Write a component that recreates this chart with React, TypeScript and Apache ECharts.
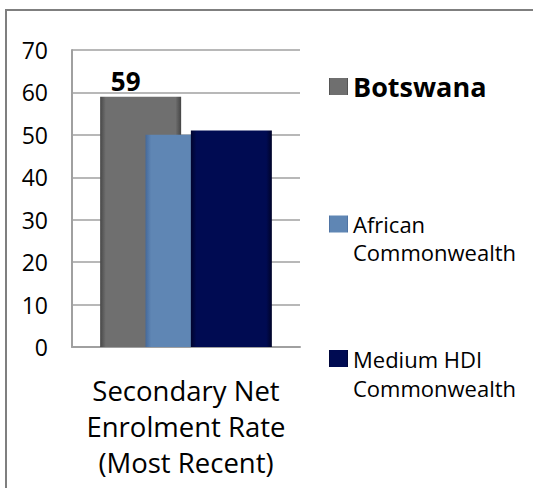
import React, { useEffect, useRef } from "react";
import * as echarts from "echarts";

const categories = ["Secondary Net\nEnrolment Rate\n(Most Recent)"];
const seriesNames = ["Botswana", "African Commonwealth", "Medium HDI Commonwealth"];
const botswana = [59];
const africanCommonwealth = [50];
const mediumHdiCommonwealth = [51];
const yTicks = { min: 0, max: 70, interval: 10 };

const FONT = "'Open Sans', 'Liberation Sans', sans-serif";

function hGrad(edge: string, mid: string, edge2: string) {
  return new echarts.graphic.LinearGradient(0, 0, 1, 0, [
    { offset: 0, color: edge },
    { offset: 0.07, color: mid },
    { offset: 0.93, color: mid },
    { offset: 1, color: edge2 },
  ]);
}

export default function App() {
  const ref = useRef<HTMLDivElement>(null);
  useEffect(() => {
    document.body.style.margin = "0";
    document.body.style.overflow = "hidden";
    if (!ref.current) return;
    const chart = echarts.init(ref.current, null, { renderer: "svg" });
    const legendBase = {
      orient: "vertical",
      left: 329,
      padding: 0,
      itemWidth: 19,
      itemHeight: 17,
      icon: "rect",
      selectedMode: false,
    };
    chart.setOption({
      animation: false,
      backgroundColor: "#ffffff",
      graphic: [
        {
          type: "line",
          shape: { x1: 5, y1: 10, x2: 533, y2: 10 },
          style: { stroke: "#7f7f7f", lineWidth: 2 },
          silent: true,
        },
        {
          type: "line",
          shape: { x1: 6, y1: 9, x2: 6, y2: 488 },
          style: { stroke: "#7f7f7f", lineWidth: 2 },
          silent: true,
        },
      ],
      legend: [
        {
          ...legendBase,
          top: 73,
          data: [seriesNames[0]],
          textStyle: { fontFamily: FONT, fontSize: 27, fontWeight: "bold", color: "#000" },
        },
        {
          ...legendBase,
          top: 182,
          data: [seriesNames[1]],
          formatter: () => "\nAfrican\nCommonwealth",
          textStyle: { fontFamily: FONT, fontSize: 22, lineHeight: 28, color: "#000" },
        },
        {
          ...legendBase,
          top: 315,
          data: [seriesNames[2]],
          formatter: () => "\nMedium HDI\nCommonwealth",
          textStyle: { fontFamily: FONT, fontSize: 22, lineHeight: 29, color: "#000" },
        },
      ],
      grid: { left: 72, right: 233, top: 50, bottom: 141, containLabel: false },
      xAxis: {
        type: "category",
        data: categories,
        axisLine: { show: true, lineStyle: { color: "#a0a0a0", width: 2 } },
        axisTick: { show: false },
        axisLabel: {
          margin: 25,
          fontFamily: FONT,
          fontSize: 27.5,
          lineHeight: 36,
          color: "#000",
        },
      },
      yAxis: {
        type: "value",
        min: yTicks.min,
        max: yTicks.max,
        interval: yTicks.interval,
        axisLine: { show: true, lineStyle: { color: "#a0a0a0", width: 2 } },
        axisTick: { show: false },
        splitLine: { show: true, lineStyle: { color: "#a0a0a0", width: 1.5 } },
        axisLabel: { margin: 24, fontFamily: FONT, fontSize: 23, color: "#000" },
      },
      series: [
        {
          name: seriesNames[0],
          type: "bar",
          data: botswana,
          barWidth: 81,
          barGap: "-44%",
          itemStyle: { color: hGrad("#474747", "#6f6f6f", "#444444") },
          label: {
            show: true,
            position: "top",
            distance: 3,
            offset: [-15, 0],
            fontFamily: FONT,
            fontSize: 26,
            fontWeight: "bold",
            color: "#000",
          },
        },
        {
          name: seriesNames[1],
          type: "bar",
          data: africanCommonwealth,
          barWidth: 81,
          barGap: "-44%",
          itemStyle: { color: hGrad("#45699a", "#5f86b4", "#45699a") },
        },
        {
          name: seriesNames[2],
          type: "bar",
          data: mediumHdiCommonwealth,
          barWidth: 81,
          barGap: "-44%",
          itemStyle: { color: hGrad("#00042e", "#000b52", "#000328") },
        },
      ],
    });
    return () => chart.dispose();
  }, []);
  return (
    <div
      ref={ref}
      style={{ position: "fixed", left: 0, top: 0, width: 533, height: 488 }}
    />
  );
}
